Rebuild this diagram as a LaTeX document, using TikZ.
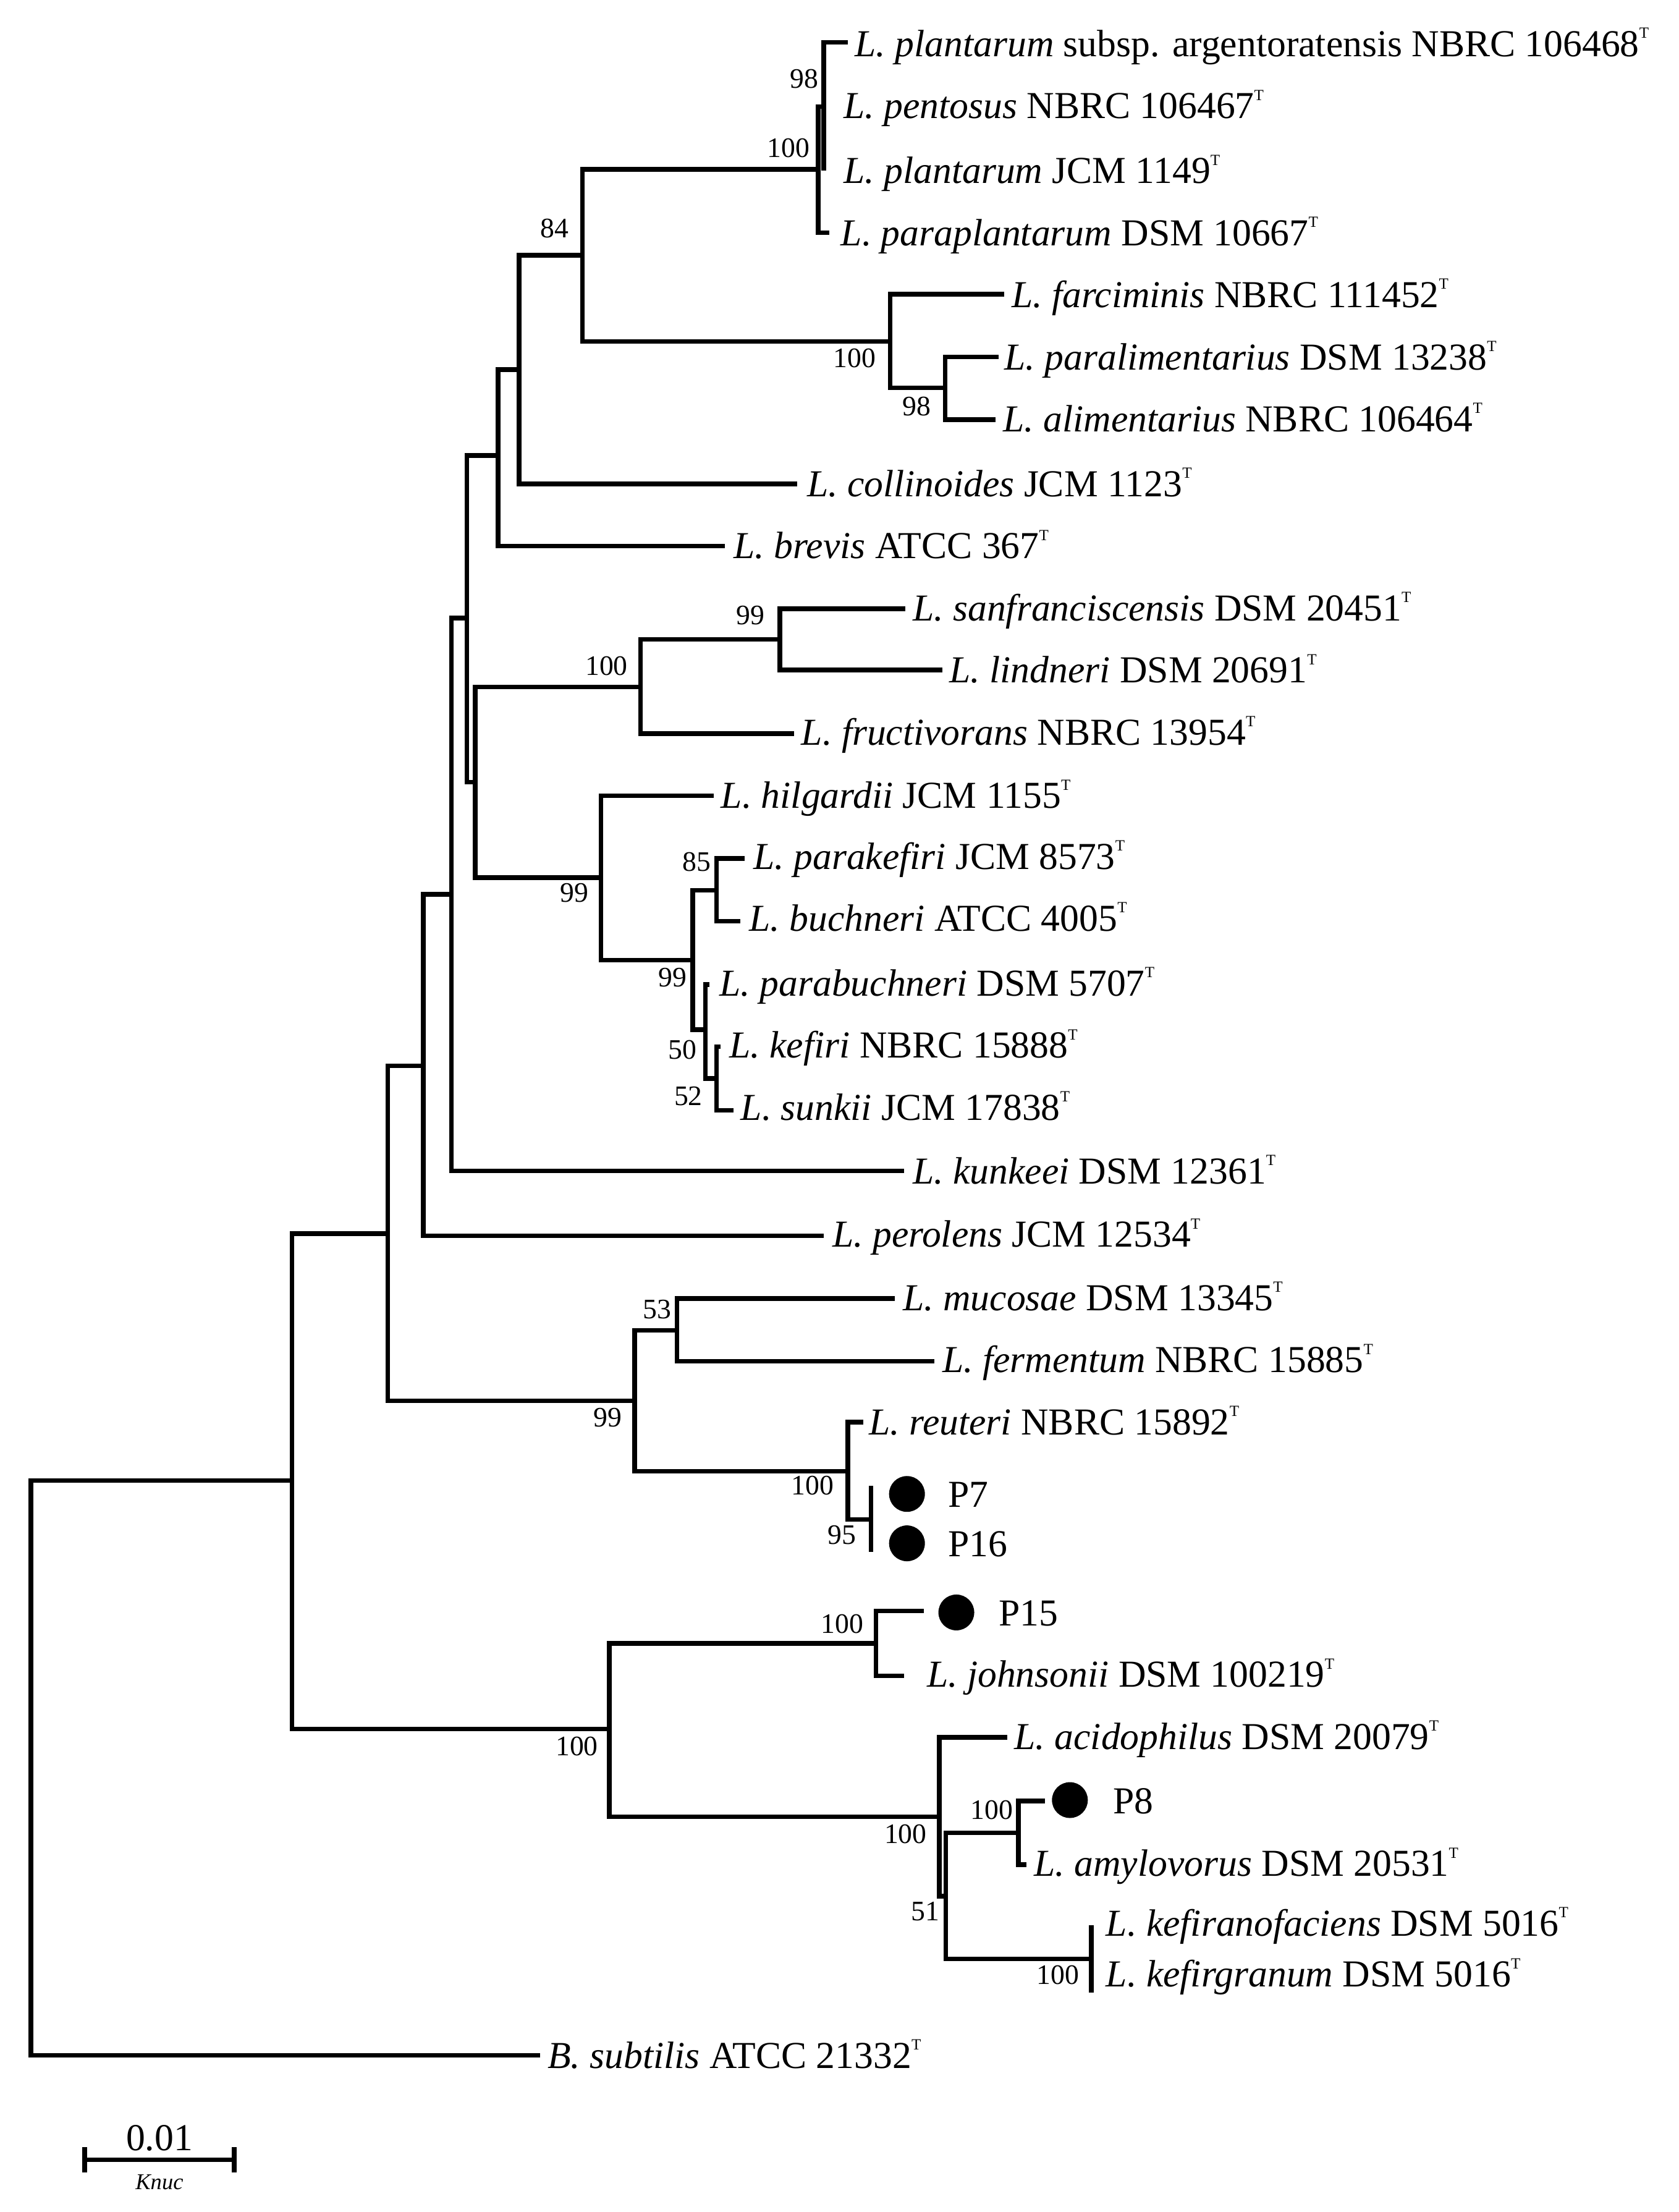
\documentclass[tikz,border=0pt]{standalone}
\usepackage{fontspec}
\setmainfont{Liberation Serif}
\usetikzlibrary{calc}
\newcommand{\typ}{\raisebox{13pt}{\fontsize{11}{11}\selectfont T}}
\tikzset{
    branch/.style={line width=3.3pt, line join=miter},
    taxon/.style={anchor=base west, inner sep=0pt, font=\fontsize{27}{30}\selectfont},
    boot/.style={inner sep=0pt, font=\fontsize{20}{22}\selectfont},
    isolate/.style={circle, fill=black, inner sep=0pt, minimum size=25.4pt}
}

\begin{document}
\begin{tikzpicture}[x=1pt, y=-1pt]
\useasboundingbox (0,0) rectangle (1190,1568);
% internal nodes
\foreach \x/\y/\p in {22/1253.5/r, 207/1049.5/nA, 275/874.5/nB, 300/755.5/nC, 320/634/nD, 331/438/nF, 337/554.5/nG, 353/323/nH, 368/262/nI, 413/181/nJ, 580/120/n100p, 584/75.5/n98p, 631/242/n100f, 670/275/n98a, 454/487/n100s, 553/453.3/n99s, 426/622/n99h, 491/680.7/n99b, 508/631/n85, 500/730/n50, 508/764.4/n52, 450/993/n99m, 480/943/n53, 601/1043/n100r, 617.6/1077/n95, 432/1225.5/nL, 621/1165/n100j, 666/1287.8/n100b, 670.6/1344/n51, 722/1299.2/n100a, 773.7/1388.6/n100k}
    \coordinate (\p) at (\x,\y);
% reference strains
\foreach \x/\y/\p/\lx/\ly/\labeltext in {
    601/30/argent/606/40/{\textit{L. plantarum} subsp. argentoratensis NBRC 106468\typ},
    584/75.5/pentos/598/84/{\textit{L. pentosus} NBRC 106467\typ},
    584/121/plantJ/598/130/{\textit{L. plantarum} JCM 1149\typ},
    588/165/parapl/596/174/{\textit{L. paraplantarum} DSM 10667\typ},
    712/208.5/farcim/717/218/{\textit{L. farciminis} NBRC 111452\typ},
    708/253/paralim/712/262/{\textit{L. paralimentarius} DSM 13238\typ},
    706/297.5/alim/711/306/{\textit{L. alimentarius} NBRC 106464\typ},
    565/343/collin/572/352/{\textit{L. collinoides} JCM 1123\typ},
    514/387/brev/520/396/{\textit{L. brevis} ATCC 367\typ},
    642/431.5/sanfr/647/440/{\textit{L. sanfranciscensis} DSM 20451\typ},
    668/475/lindn/673/484/{\textit{L. lindneri} DSM 20691\typ},
    563/520/fructiv/568/528/{\textit{L. fructivorans} NBRC 13954\typ},
    506/564/hilg/511/573/{\textit{L. hilgardii} JCM 1155\typ},
    528/608.5/parakef/534/616/{\textit{L. parakefiri} JCM 8573\typ},
    525/653/buchn/531/660/{\textit{L. buchneri} ATCC 4005\typ},
    503/698/parabuch/510/706/{\textit{L. parabuchneri} DSM 5707\typ},
    511/742/kefiri/517/750/{\textit{L. kefiri} NBRC 15888\typ},
    520/787/sunkii/525/794/{\textit{L. sunkii} JCM 17838\typ},
    641/830/kunk/647/839/{\textit{L. kunkeei} DSM 12361\typ},
    584/876/perol/590/884/{\textit{L. perolens} JCM 12534\typ},
    634.5/920.5/mucos/640/929/{\textit{L. mucosae} DSM 13345\typ},
    662.5/965/ferment/668/973/{\textit{L. fermentum} NBRC 15885\typ},
    612/1008/reut/616/1017/{\textit{L. reuteri} NBRC 15892\typ},
    641/1188/johns/657/1196/{\textit{L. johnsonii} DSM 100219\typ},
    714/1231.6/acid/719/1240/{\textit{L. acidophilus} DSM 20079\typ},
    727.6/1321.7/amyl/733/1330/{\textit{L. amylovorus} DSM 20531\typ},
    773.7/1364.8/kefiran/784/1372.4/{\textit{L. kefiranofaciens} DSM 5016\typ},
    773.7/1412.4/kefirgr/784/1408.5/{\textit{L. kefirgranum} DSM 5016\typ},
    383/1457/bsub/388/1466/{\textit{B. subtilis} ATCC 21332\typ}}{
    \coordinate (\p) at (\x,\y);
    \node[taxon] (l-\p) at (\lx,\ly) {\labeltext};
}
% isolates
\foreach \x/\y/\p/\cx/\cy/\lx in {617.6/1053/P7/643/1059/672, 617.6/1100/P16/643/1094/672, 655/1142/P15/678/1143/708, 741/1276.7/P8/758.5/1276/789}{
    \coordinate (p\p) at (\x,\y);
    \node[isolate] (c-\p) at (\cx,\cy) {};
    \node[taxon] (l-\p) at (\lx,\cy+9.5) {\p};
}
% branches
\foreach \a/\b in {r/nA, r/bsub, nA/nB, nA/nL, nB/nC, nB/n99m, nC/nD, nC/perol, nD/nF, nD/kunk, nF/nH, nF/nG, nH/nI, nH/brev, nI/nJ, nI/collin, nJ/n100p, nJ/n100f, n100p/n98p, n100p/parapl, n98p/argent, n98p/plantJ, n100f/farcim, n100f/n98a, n98a/paralim, n98a/alim, nG/n100s, nG/n99h, n100s/n99s, n100s/fructiv, n99s/sanfr, n99s/lindn, n99h/hilg, n99h/n99b, n99b/n85, n99b/n50, n85/parakef, n85/buchn, n50/parabuch, n50/n52, n52/kefiri, n52/sunkii, n99m/n53, n99m/n100r, n53/mucos, n53/ferment, n100r/reut, n100r/n95, n95/pP7, n95/pP16, nL/n100j, nL/n100b, n100j/pP15, n100j/johns, n100b/acid, n100b/n51, n51/n100a, n51/n100k, n100a/pP8, n100a/amyl, n100k/kefiran, n100k/kefirgr}
    \draw[branch] (\a) |- (\b);
% bootstrap values
\foreach \x/\y/\v in {570/56/98, 559/105/100, 393/162/84, 606/254/100, 650/288/98, 532/436/99, 430/472/100, 407/633/99, 494/611/85, 477/693/99, 484/744/50, 488/777/52, 466/928/53, 431/1005/99, 576/1053/100, 597/1088/95, 597/1151/100, 409/1238/100, 642/1300/100, 703/1283/100, 656/1355/51, 750/1400/100}
    \node[boot] (b-\x-\v) at (\x,\y) {\v};
% scale bar
\coordinate (sb1) at (60,1531);
\coordinate (sb2) at (166,1531);
\draw[branch] (sb1) -- (sb2);
\draw[branch] ($(sb1)+(0,-9)$) -- ($(sb1)+(0,9)$);
\draw[branch] ($(sb2)+(0,-9)$) -- ($(sb2)+(0,9)$);
\node[anchor=base, inner sep=0pt, font=\fontsize{27}{30}\selectfont] (sbv) at ($(sb1)!.5!(sb2)+(0,-6.7)$) {0.01};
\node[anchor=base, inner sep=0pt, font=\fontsize{16}{18}\selectfont\itshape] (sbu) at ($(sb1)!.5!(sb2)+(0,21)$) {Knuc};
\end{tikzpicture}
\end{document}
